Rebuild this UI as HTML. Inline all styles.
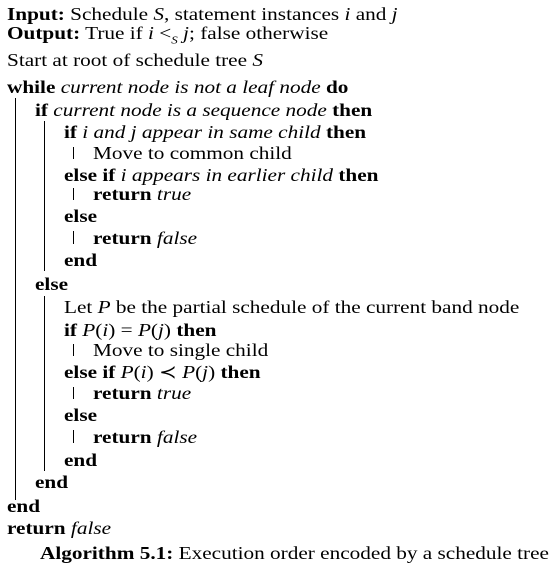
<html><head><style>
body{margin:0;width:553px;height:565px;background:#fff;position:relative;font-family:"Liberation Serif",serif;font-size:18px;color:#000;overflow:hidden}
.l{position:absolute;line-height:20px;white-space:nowrap;transform:scaleX(1.18);transform-origin:0 50%}
.b{position:absolute;background:#000;width:1.4px}
i{font-style:italic}
</style></head><body>
<div class="l" style="left:7px;top:4px"><b>Input:</b> Schedule <i>S</i>, statement instances <i>i</i> and <i>j</i></div>
<div class="l" style="left:7px;top:23px"><b>Output:</b> True if <i>i</i> &lt;<sub style="font-size:11px"><i>S</i></sub> <i>j</i>; false otherwise</div>
<div class="l" style="left:7px;top:50px">Start at root of schedule tree <i>S</i></div>
<div class="l" style="left:7px;top:77px"><b>while</b> <i>current node is not a leaf node</i> <b>do</b></div>
<div class="l" style="left:35px;top:100px"><b>if</b> <i>current node is a sequence node</i> <b>then</b></div>
<div class="l" style="left:64px;top:122px"><b>if</b> <i>i and j appear in same child</i> <b>then</b></div>
<div class="l" style="left:93px;top:143px">Move to common child</div>
<div class="l" style="left:64px;top:165px"><b>else if</b> <i>i appears in earlier child</i> <b>then</b></div>
<div class="l" style="left:93px;top:184px"><b>return</b> <i>true</i></div>
<div class="l" style="left:64px;top:206px"><b>else</b></div>
<div class="l" style="left:93px;top:228px"><b>return</b> <i>false</i></div>
<div class="l" style="left:64px;top:250px"><b>end</b></div>
<div class="l" style="left:35px;top:274px"><b>else</b></div>
<div class="l" style="left:64px;top:297px">Let <i>P</i> be the partial schedule of the current band node</div>
<div class="l" style="left:64px;top:320px"><b>if</b> <i>P</i>(<i>i</i>) = <i>P</i>(<i>j</i>) <b>then</b></div>
<div class="l" style="left:93px;top:340px">Move to single child</div>
<div class="l" style="left:64px;top:362px"><b>else if</b> <i>P</i>(<i>i</i>) ≺ <i>P</i>(<i>j</i>) <b>then</b></div>
<div class="l" style="left:93px;top:383px"><b>return</b> <i>true</i></div>
<div class="l" style="left:64px;top:405px"><b>else</b></div>
<div class="l" style="left:93px;top:427px"><b>return</b> <i>false</i></div>
<div class="l" style="left:64px;top:450px"><b>end</b></div>
<div class="l" style="left:35px;top:472px"><b>end</b></div>
<div class="l" style="left:7px;top:496px"><b>end</b></div>
<div class="l" style="left:7px;top:518px"><b>return</b> <i>false</i></div>
<div class="l" style="left:40px;top:543px"><b>Algorithm 5.1:</b> Execution order encoded by a schedule tree</div>
<div class="b" style="left:15px;top:98px;height:402px"></div>
<div class="b" style="left:44px;top:121px;height:150px"></div>
<div class="b" style="left:44px;top:296px;height:175px"></div>
<div class="b" style="left:73px;top:147px;height:12px"></div>
<div class="b" style="left:73px;top:188px;height:12px"></div>
<div class="b" style="left:73px;top:231px;height:13px"></div>
<div class="b" style="left:73px;top:344px;height:12px"></div>
<div class="b" style="left:73px;top:387px;height:12px"></div>
<div class="b" style="left:73px;top:430px;height:13px"></div>
</body></html>
